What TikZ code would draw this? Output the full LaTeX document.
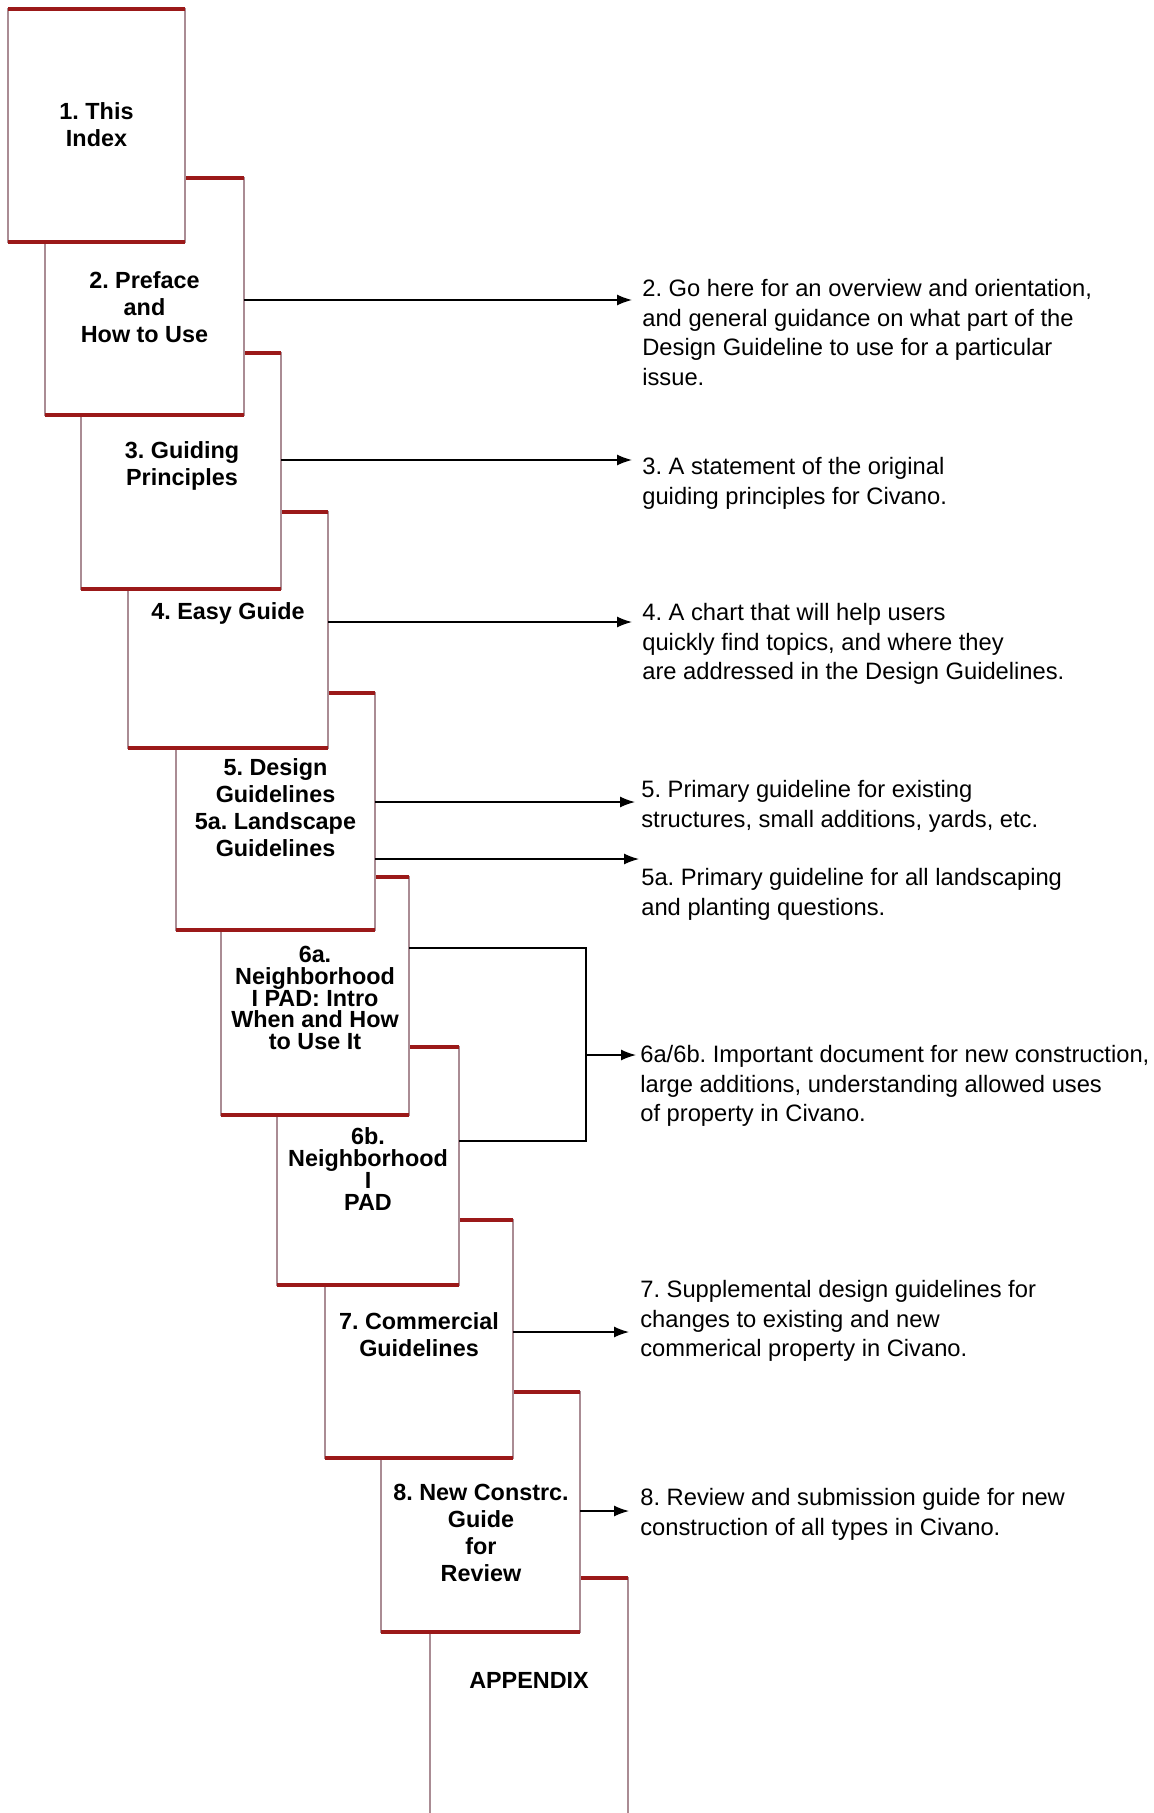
\documentclass[tikz,border=0pt]{standalone}
\usepackage{fontspec}
\setmainfont{Liberation Sans}
\usepackage{tikz}
\usetikzlibrary{arrows.meta}
\definecolor{pagered}{RGB}{155, 25, 25}
\definecolor{pageside}{RGB}{170, 140, 148}
\newcommand{\tightlines}{\lineskiplimit=-6pt\relax}
\frenchspacing

\begin{document}
\begin{tikzpicture}[
    page/.style={draw=pageside, line width=1.2pt, fill=white, inner sep=0pt, outer sep=0pt, anchor=north west},
    pageedge/.style={draw=pagered, line width=1.9pt},
    pagetext/.style={font=\fontsize{13.3pt}{15.4pt}\selectfont\bfseries, align=center, inner sep=0pt},
    tighttext/.style={pagetext, font={\fontsize{13.3pt}{12.4pt}\selectfont\bfseries\tightlines}},
    desc/.style={font=\fontsize{13.5pt}{16.8pt}\selectfont, align=left, anchor=north west, inner sep=0pt},
    arr/.style={-{Latex[length=3mm, width=2.2mm]}, line width=0.8pt},
    wire/.style={line width=0.8pt}
  ]
  \useasboundingbox (0,0) rectangle (23.06,-36.26);
  \clip (0,0) rectangle (23.06,-36.26);

  % pages, back to front
  \node[page, minimum width=3.96cm, minimum height=5.2cm] (bA) at (8.60,-31.56) {};
  \draw[pageedge] (bA.north west) -- (bA.north east);
  \node[pagetext] (tA) at (10.58,-33.60) {APPENDIX};

  \node[page, minimum width=3.98cm, minimum height=4.80cm] (b8) at (7.62,-27.84) {};
  \draw[pageedge] (b8.north west) -- (b8.north east) (b8.south west) -- (b8.south east);
  \node[pagetext] (t8) at (9.62,-30.66) {8. New Constrc.\\Guide\\for\\Review};

  \node[page, minimum width=3.76cm, minimum height=4.76cm] (b7) at (6.50,-24.40) {};
  \draw[pageedge] (b7.north west) -- (b7.north east) (b7.south west) -- (b7.south east);
  \node[pagetext] (t7) at (8.38,-26.70) {7. Commercial\\Guidelines};

  \node[page, minimum width=3.64cm, minimum height=4.76cm] (b6b) at (5.54,-20.94) {};
  \draw[pageedge] (b6b.north west) -- (b6b.north east) (b6b.south west) -- (b6b.south east);
  \node[tighttext] (t6b) at (7.36,-23.38) {6b.\\Neighborhood\\I\\PAD};

  \node[page, minimum width=3.76cm, minimum height=4.76cm] (b6a) at (4.42,-17.54) {};
  \draw[pageedge] (b6a.north west) -- (b6a.north east) (b6a.south west) -- (b6a.south east);
  \node[tighttext] (t6a) at (6.30,-19.96) {6a.\\Neighborhood\\I PAD: Intro\\When and How\\to Use It};

  \node[page, minimum width=3.98cm, minimum height=4.74cm] (b5) at (3.52,-13.86) {};
  \draw[pageedge] (b5.north west) -- (b5.north east) (b5.south west) -- (b5.south east);
  \node[pagetext] (t5) at (5.51,-16.16) {5. Design\\Guidelines\\5a. Landscape\\Guidelines};

  \node[page, minimum width=4.00cm, minimum height=4.72cm] (b4) at (2.56,-10.24) {};
  \draw[pageedge] (b4.north west) -- (b4.north east) (b4.south west) -- (b4.south east);
  \node[pagetext] (t4) at (4.56,-12.26) {4. Easy Guide};

  \node[page, minimum width=4.00cm, minimum height=4.72cm] (b3) at (1.62,-7.06) {};
  \draw[pageedge] (b3.north west) -- (b3.north east) (b3.south west) -- (b3.south east);
  \node[pagetext] (t3) at (3.64,-9.32) {3. Guiding\\Principles};

  \node[page, minimum width=3.98cm, minimum height=4.74cm] (b2) at (0.90,-3.56) {};
  \draw[pageedge] (b2.north west) -- (b2.north east) (b2.south west) -- (b2.south east);
  \node[pagetext] (t2) at (2.89,-6.14) {2. Preface\\and\\How to Use};

  \node[page, minimum width=3.54cm, minimum height=4.66cm] (b1) at (0.16,-0.18) {};
  \draw[pageedge] (b1.north west) -- (b1.north east) (b1.south west) -- (b1.south east);
  \node[pagetext] (t1) at (1.93,-2.50) {1. This\\Index};

  % descriptions
  \node[desc] (d2) at (12.84,-5.58) {2. Go here for an overview and orientation,\\and general guidance on what part of the\\Design Guideline to use for a particular\\issue.};
  \node[desc] (d3) at (12.84,-9.14) {3. A statement of the original\\guiding principles for Civano.};
  \node[desc] (d4) at (12.84,-12.06) {4. A chart that will help users\\quickly find topics, and where they\\are addressed in the Design Guidelines.};
  \node[desc] (d5) at (12.82,-15.60) {5. Primary guideline for existing\\structures, small additions, yards, etc.};
  \node[desc] (d5a) at (12.82,-17.36) {5a. Primary guideline for all landscaping\\and planting questions.};
  \node[desc] (d6) at (12.80,-20.90) {6a/6b. Important document for new construction,\\large additions, understanding allowed uses\\of property in Civano.};
  \node[desc] (d7) at (12.80,-25.60) {7. Supplemental design guidelines for\\changes to existing and new\\commerical property in Civano.};
  \node[desc] (d8) at (12.80,-29.76) {8. Review and submission guide for new\\construction of all types in Civano.};

  % arrows
  \coordinate (a2) at (12.64,-6.00);
  \coordinate (a3) at (12.64,-9.20);
  \coordinate (a4) at (12.64,-12.44);
  \coordinate (a5) at (12.70,-16.04);
  \coordinate (a5a) at (12.78,-17.18);
  \coordinate (a6) at (12.72,-21.10);
  \coordinate (a7) at (12.58,-26.64);
  \coordinate (a8) at (12.58,-30.22);
  \coordinate (k6t) at (11.72,-18.96);
  \coordinate (k6b) at (11.72,-22.82);

  \draw[arr] (b2.east |- a2) -- (a2);
  \draw[arr] (b3.east |- a3) -- (a3);
  \draw[arr] (b4.east |- a4) -- (a4);
  \draw[arr] (b5.east |- a5) -- (a5);
  \draw[arr] (b5.east |- a5a) -- (a5a);
  \draw[wire] (b6a.east |- k6t) -- (k6t) -- (k6b) -- (b6b.east |- k6b);
  \draw[arr] (k6t |- a6) -- (a6);
  \draw[arr] (b7.east |- a7) -- (a7);
  \draw[arr] (b8.east |- a8) -- (a8);
\end{tikzpicture}
\end{document}
